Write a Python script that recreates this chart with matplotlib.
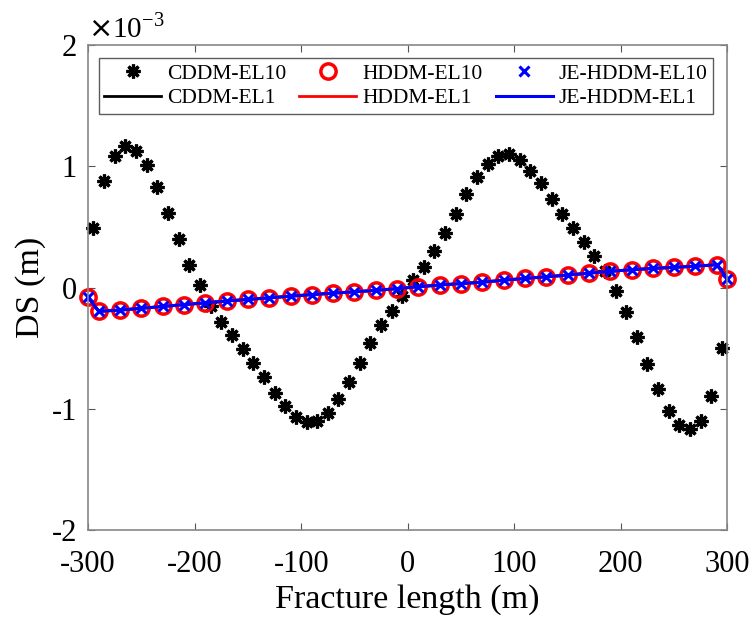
import numpy as np
import matplotlib.pyplot as plt

plt.rcParams['font.family'] = ['Liberation Serif', 'DejaVu Serif']
plt.rcParams['axes.unicode_minus'] = False

# displacement values in units of 1e-3 m
x_el10 = [-295, -285, -275, -265, -255, -245, -235, -225, -215, -205,
          -195, -185, -175, -165, -155, -145, -135, -125, -115, -105,
          -95, -85, -75, -65, -55, -45, -35, -25, -15, -5,
          5, 15, 25, 35, 45, 55, 65, 75, 85, 95,
          105, 115, 125, 135, 145, 155, 165, 175, 185, 195,
          205, 215, 225, 235, 245, 255, 265, 275, 285, 295]
ds_cddm_el10 = [0.49, 0.88, 1.09, 1.17, 1.13, 1.01, 0.83, 0.62, 0.40, 0.19,
                0.02, -0.15, -0.28, -0.39, -0.51, -0.62, -0.74, -0.87, -0.98, -1.07,
                -1.11, -1.10, -1.03, -0.92, -0.78, -0.62, -0.46, -0.31, -0.19, -0.07,
                0.06, 0.17, 0.30, 0.45, 0.61, 0.77, 0.91, 1.02, 1.09, 1.10,
                1.05, 0.96, 0.86, 0.735, 0.61, 0.49, 0.38, 0.26, 0.14, -0.025,
                -0.20, -0.41, -0.63, -0.84, -1.02, -1.135, -1.17, -1.10, -0.895, -0.50]

x_el1 = [-300, -290, -270, -250, -230, -210, -190, -170, -150, -130, -110,
         -90, -70, -50, -30, -10, 10, 30, 50, 70, 90, 110, 130, 150,
         170, 190, 210, 230, 250, 270, 290, 300]
ds_el1 = [-0.08, -0.195, -0.185, -0.17, -0.155, -0.14, -0.125, -0.11, -0.097, -0.084, -0.07,
          -0.057, -0.045, -0.034, -0.022, -0.008, 0.008, 0.022, 0.034, 0.045, 0.062, 0.076,
          0.09, 0.104, 0.12, 0.135, 0.148, 0.159, 0.168, 0.177, 0.19, 0.075]

fig = plt.figure(figsize=(7.53, 6.2), dpi=100)
ax = fig.add_axes([0.117, 0.145, 0.849, 0.782])

star = (8, 2, 0)
ax.plot(x_el10, ds_cddm_el10, linestyle='none', marker=star, ms=10, mew=2.3,
        color='black', label='CDDM-EL10', clip_on=False)
ax.plot(x_el1, ds_el1, '-', color='black', lw=2, label='CDDM-EL1', clip_on=False)
ax.plot(x_el1, ds_el1, linestyle='none', marker='o', ms=11, mew=2.5,
        mfc='none', mec='red', label='HDDM-EL10', clip_on=False)
ax.plot(x_el1, ds_el1, '-', color='red', lw=2, label='HDDM-EL1', clip_on=False)
ax.plot(x_el1, ds_el1, linestyle='none', marker='x', ms=7, mew=2.2,
        color='blue', label='JE-HDDM-EL10', clip_on=False)
ax.plot(x_el1, ds_el1, '-', color='blue', lw=2.2, label='JE-HDDM-EL1', clip_on=False)

ax.set_xlim(-300, 300)
ax.set_ylim(-2, 2)
ax.set_xticks([-300, -200, -100, 0, 100, 200, 300])
ax.set_yticks([-2, -1, 0, 1, 2])
ax.tick_params(direction='in', top=True, right=True, labelsize=22,
               length=5, color='#555555')
ax.tick_params(axis='x', pad=14)
ax.tick_params(axis='y', pad=8)
for s in ax.spines.values():
    s.set_color('#888888')
    s.set_linewidth(1.2)

ax.set_xlabel('Fracture length (m)', fontsize=24.5, labelpad=4)
ax.set_ylabel('DS (m)', fontsize=24.5, labelpad=4)
ax.text(0.0, 1.005, r'$\times$10$^{\mathregular{-3}}$', transform=ax.transAxes,
        fontsize=21, va='bottom', ha='left')

leg = ax.legend(ncol=3, loc='upper left', bbox_to_anchor=(0.0165, 0.973),
                fontsize=15.5, frameon=True, fancybox=False, edgecolor='#333333',
                handlelength=2.65, columnspacing=0.6, handletextpad=0.28,
                borderpad=0.25, labelspacing=0.2, borderaxespad=0)
leg.get_frame().set_linewidth(1.0)

fig.savefig('out.png', dpi=100)
